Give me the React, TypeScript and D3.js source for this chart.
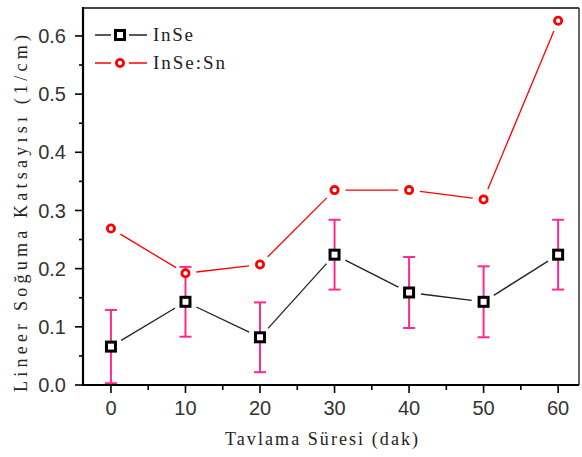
import React from "react";
import * as d3 from "d3";

const times = [0, 10, 20, 30, 40, 50, 60];
const inse = [0.066, 0.143, 0.082, 0.224, 0.159, 0.143, 0.224];
const inseErr = [0.063, 0.06, 0.06, 0.06, 0.061, 0.061, 0.06];
const inseSn = [0.269, 0.192, 0.207, 0.335, 0.335, 0.319, 0.626];
const xTicks = [0, 10, 20, 30, 40, 50, 60];
const xMinor = [5, 15, 25, 35, 45, 55];
const yTicks = [0, 0.1, 0.2, 0.3, 0.4, 0.5, 0.6];
const yMinor = [0.05, 0.15, 0.25, 0.35, 0.45, 0.55];

const W = 582, H = 457;
const L = 83, R = 579, T = 8, B = 385;

export default function App() {
  const x = d3.scaleLinear().domain([-3.75, 62.8]).range([L, R]);
  const y = d3.scaleLinear().domain([0, 0.648]).range([B, T]);

  const gapSegs = (vals: number[], gap: number) => {
    const segs: string[] = [];
    for (let i = 0; i < vals.length - 1; i++) {
      const x1 = x(times[i]), y1 = y(vals[i]);
      const x2 = x(times[i + 1]), y2 = y(vals[i + 1]);
      const dx = x2 - x1, dy = y2 - y1;
      const len = Math.hypot(dx, dy);
      const ux = dx / len, uy = dy / len;
      const p = d3.path();
      p.moveTo(x1 + ux * gap, y1 + uy * gap);
      p.lineTo(x2 - ux * gap, y2 - uy * gap);
      segs.push(p.toString());
    }
    return segs;
  };

  const pink = "#ff2a8c";
  const tickStyle = { fontFamily: "'Liberation Sans', Arial, sans-serif" };
  const serifStyle = { fontFamily: "'Liberation Serif', 'DejaVu Serif', 'Times New Roman', serif" };

  return (
    <svg width={W} height={H} style={{ position: "absolute", left: 0, top: 0, background: "#fff" }}>
      <rect x={0} y={0} width={W} height={H} fill="#fff" />
      {/* error bars */}
      {times.map((t, i) => {
        const cx = x(t);
        const y1 = y(inse[i] - inseErr[i]);
        const y2 = y(inse[i] + inseErr[i]);
        return (
          <g key={"e" + i} stroke={pink} strokeWidth={2}>
            <line x1={cx} x2={cx} y1={y1} y2={y2} />
            <line x1={cx - 6} x2={cx + 6} y1={y1} y2={y1} />
            <line x1={cx - 6} x2={cx + 6} y1={y2} y2={y2} />
          </g>
        );
      })}
      {/* lines */}
      {gapSegs(inse, 12).map((d, i) => (
        <path key={"l1" + i} d={d} stroke="#222" strokeWidth={1.3} fill="none" />
      ))}
      {gapSegs(inseSn, 11).map((d, i) => (
        <path key={"l2" + i} d={d} stroke="#ff0000" strokeWidth={1.3} fill="none" />
      ))}
      {/* markers */}
      {times.map((t, i) => (
        <rect key={"m1" + i} x={x(t) - 4.5} y={y(inse[i]) - 4.5} width={9} height={9}
          fill="#fff" stroke="#000" strokeWidth={3} />
      ))}
      {times.map((t, i) => (
        <circle key={"m2" + i} cx={x(t)} cy={y(inseSn[i])} r={3.6}
          fill="#fff" stroke="#ff0000" strokeWidth={2.8} />
      ))}
      {/* frame */}
      <line x1={L} x2={R} y1={T} y2={T} stroke="#444" strokeWidth={1.8} />
      <line x1={R} x2={R} y1={T} y2={B} stroke="#333" strokeWidth={1.5} />
      <line x1={L} x2={L} y1={T - 1} y2={B + 1} stroke="#000" strokeWidth={2.2} />
      <line x1={L - 1} x2={R} y1={B} y2={B} stroke="#000" strokeWidth={2.2} />
      {/* y ticks */}
      {yTicks.map((v) => (
        <g key={"yt" + v}>
          <line x1={L - 8} x2={L} y1={y(v)} y2={y(v)} stroke="#000" strokeWidth={1.6} />
          <text x={66} y={y(v)} dy="0.36em" textAnchor="end" style={tickStyle}
            fontSize={20} fill="#333">{d3.format(".1f")(v)}</text>
        </g>
      ))}
      {yMinor.map((v) => (
        <line key={"ym" + v} x1={L - 4} x2={L} y1={y(v)} y2={y(v)} stroke="#000" strokeWidth={1.6} />
      ))}
      {/* x ticks */}
      {xTicks.map((v) => (
        <g key={"xt" + v}>
          <line x1={x(v)} x2={x(v)} y1={B} y2={B + 8} stroke="#000" strokeWidth={1.6} />
          <text x={x(v)} y={415} textAnchor="middle" style={tickStyle}
            fontSize={20} fill="#333">{v}</text>
        </g>
      ))}
      {xMinor.map((v) => (
        <line key={"xm" + v} x1={x(v)} x2={x(v)} y1={B} y2={B + 5} stroke="#000" strokeWidth={1.6} />
      ))}
      {/* axis titles */}
      <text x={225} y={445} style={serifStyle} fontSize={18} fill="#222"
        textLength={193} lengthAdjust="spacing">Tavlama Süresi (dak)</text>
      <text transform="translate(27,392) rotate(-90)" style={serifStyle} fontSize={18}
        fill="#222" textLength={357} lengthAdjust="spacing">Lineer Soğuma Katsayısı (1/cm)</text>
      {/* legend */}
      <line x1={95} x2={147} y1={35} y2={35} stroke="#222" strokeWidth={1.3} />
      <line x1={111} x2={129} y1={35} y2={35} stroke="#fff" strokeWidth={3} />
      <rect x={115.5} y={30.5} width={9} height={9} fill="#fff" stroke="#000" strokeWidth={3} />
      <text x={153} y={41} style={serifStyle} fontSize={19} fill="#222"
        textLength={40} lengthAdjust="spacing">InSe</text>
      <line x1={95} x2={147} y1={63} y2={63} stroke="#ff0000" strokeWidth={1.3} />
      <line x1={111} x2={129} y1={63} y2={63} stroke="#fff" strokeWidth={3} />
      <circle cx={120} cy={63} r={3.6} fill="#fff" stroke="#ff0000" strokeWidth={2.8} />
      <text x={153} y={69} style={serifStyle} fontSize={19} fill="#222"
        textLength={72} lengthAdjust="spacing">InSe:Sn</text>
    </svg>
  );
}
